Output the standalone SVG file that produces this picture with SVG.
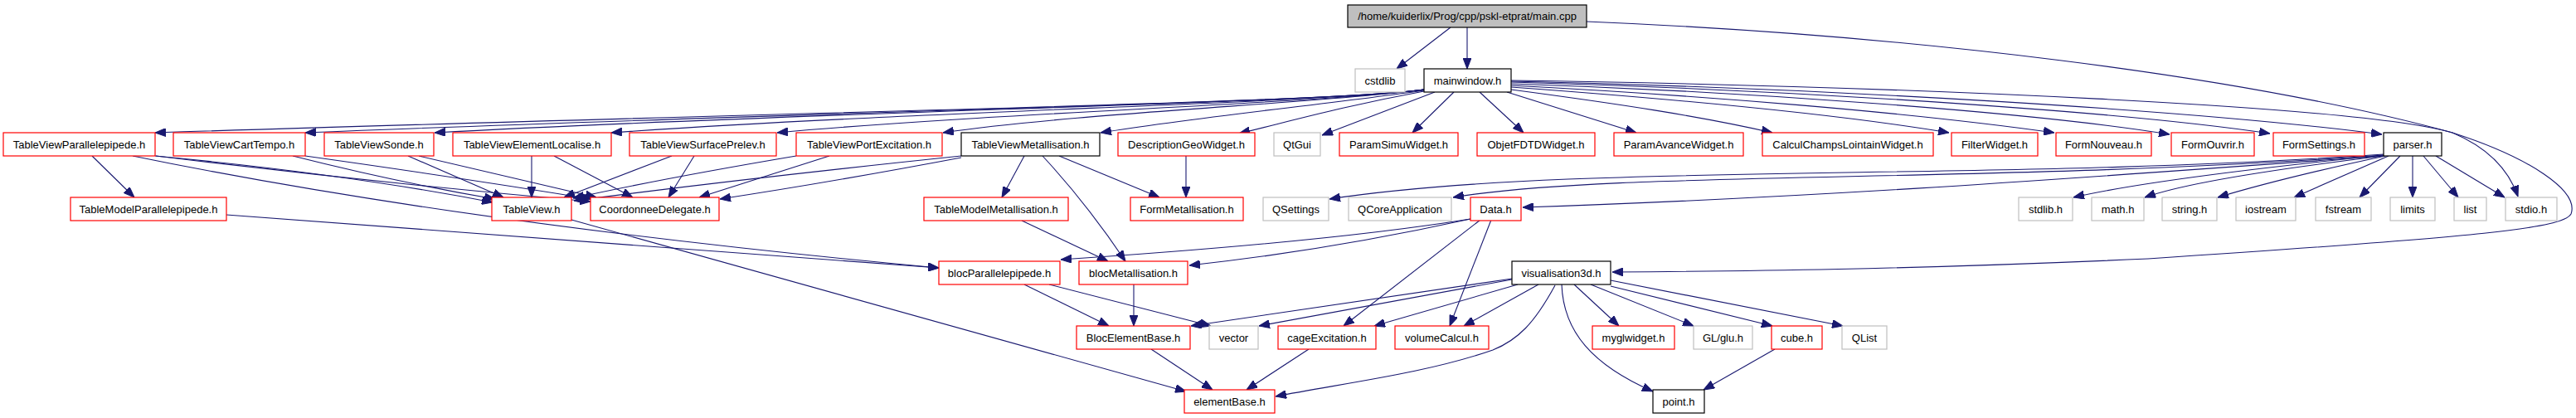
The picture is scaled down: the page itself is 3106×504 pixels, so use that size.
<svg xmlns="http://www.w3.org/2000/svg" width="3106" height="504" viewBox="0 0 3106 504">
<style>
rect{stroke-width:1.2}
.r rect{fill:#fff;stroke:#ff0000}
.g rect{fill:#fff;stroke:#bfbfbf}
.b rect{fill:#fff;stroke:#000}
.m rect{fill:#bfbfbf;stroke:#000}
text{font-family:"Liberation Sans",Arial,Helvetica,sans-serif;font-size:13px;fill:#000;text-anchor:middle}
#edges path{fill:none;stroke:#191970;stroke-width:1.1;marker-end:url(#ah)}
</style>
<defs>
<marker id="ah" markerUnits="userSpaceOnUse" markerWidth="13" markerHeight="10" refX="13" refY="5" orient="auto" viewBox="0 0 13 10">
<path d="M0,0 L13,5 L0,10 z" fill="#191970" stroke="#191970" stroke-width="1"/>
</marker>
</defs>
<rect width="3106" height="504" fill="#fff"/>
<g id="edges">
<path d="M1749,33 L1684,83"/>
<path d="M1769,33 L1769,83"/>
<path d="M1913,26 C2300,42 2700,90 2957,160 C3000,178 3025,205 3036,237"/>
<path d="M1717,108 C1600,124 1000,134 187,160"/>
<path d="M1717,108 C1600,124 1000,134 368,160"/>
<path d="M1717,108 C1600,124 1000,134 524,160"/>
<path d="M1717,108 C1600,124 1100,134 737,160"/>
<path d="M1717,108 C1600,124 1200,136 937,160"/>
<path d="M1717,108 C1600,124 1300,136 1137,160"/>
<path d="M1717,109 C1600,126 1450,140 1327,160"/>
<path d="M1717,110 C1620,128 1560,145 1494,161"/>
<path d="M1730,111 L1594,163"/>
<path d="M1753,111 L1703,160"/>
<path d="M1784,111 L1837,160"/>
<path d="M1817,111 L1973,160"/>
<path d="M1822,108 C1950,125 2050,140 2137,160"/>
<path d="M1822,105 C2000,118 2200,135 2350,160"/>
<path d="M1822,103 C2050,115 2300,135 2477,160"/>
<path d="M1822,101 C2100,110 2450,135 2616,162"/>
<path d="M1822,99 C2150,108 2550,133 2737,161"/>
<path d="M1822,98 C2200,106 2650,133 2872,162"/>
<path d="M1822,97 C2300,104 2850,128 2957,160 C3050,190 3110,230 3100,258 C3090,275 3000,285 2590,312 C2300,325 2100,327 1944,328"/>
<path d="M187,188 Q420,210 594,244"/>
<path d="M188,188 Q450,220 712,243"/>
<path d="M353,188 Q480,220 597,240"/>
<path d="M368,188 Q560,215 713,240"/>
<path d="M492,188 L607,238"/>
<path d="M505,188 Q600,210 719,238"/>
<path d="M641,188 L641,238"/>
<path d="M668,188 L763,238"/>
<path d="M810,188 L680,238"/>
<path d="M837,188 L806,238"/>
<path d="M960,188 Q800,215 691,239"/>
<path d="M1000,188 L843,238"/>
<path d="M1159,188 Q900,215 692,242"/>
<path d="M1159,190 Q1000,220 868,240"/>
<path d="M111,188 L162,238"/>
<path d="M160,188 Q560,270 1132,323"/>
<path d="M273,259 Q700,290 1132,323"/>
<path d="M689,265 L1430,472"/>
<path d="M1235,188 L1208,238"/>
<path d="M1257,188 Q1310,245 1357,315"/>
<path d="M1277,188 L1398,238"/>
<path d="M1430,188 L1430,238"/>
<path d="M1232,266 L1336,315"/>
<path d="M1773,264 Q1600,292 1279,313"/>
<path d="M1773,264 Q1600,302 1434,320"/>
<path d="M1785,265 L1620,393"/>
<path d="M1798,265 L1748,393"/>
<path d="M1235,343 L1337,393"/>
<path d="M1265,343 L1460,393"/>
<path d="M1367,343 L1367,393"/>
<path d="M1388,421 L1462,470"/>
<path d="M1578,421 L1503,470"/>
<path d="M1823,337 L1518,393"/>
<path d="M1823,336 L1436,393"/>
<path d="M1830,343 L1657,393"/>
<path d="M1855,343 L1765,393"/>
<path d="M1875,344 C1850,390 1830,410 1800,422 C1720,450 1620,462 1538,478"/>
<path d="M1883,343 C1885,400 1920,440 1993,472"/>
<path d="M1898,343 L1952,393"/>
<path d="M1918,343 L2042,393"/>
<path d="M1942,345 L2137,393"/>
<path d="M1942,338 L2222,393"/>
<path d="M2140,421 L2054,470"/>
<path d="M2874,186 C2400,220 1900,195 1603,240"/>
<path d="M2874,187 C2400,222 1950,205 1752,238"/>
<path d="M2874,188 C2500,215 2200,238 1836,250"/>
<path d="M2874,187 Q2600,215 2500,238"/>
<path d="M2874,188 Q2650,215 2586,238"/>
<path d="M2876,188 Q2750,215 2674,238"/>
<path d="M2880,188 L2766,238"/>
<path d="M2894,188 L2845,238"/>
<path d="M2909,188 L2909,238"/>
<path d="M2922,188 L2964,238"/>
<path d="M2937,188 L3020,238"/>
</g>
<g id="main_cpp" class="m"><rect x="1625" y="6" width="288" height="27"/><text x="1769" y="24">/home/kuiderlix/Prog/cpp/pskl-etprat/main.cpp</text></g>
<g id="cstdlib" class="g"><rect x="1634" y="83" width="60" height="28"/><text x="1664" y="102">cstdlib</text></g>
<g id="mainwindow_h" class="b"><rect x="1717" y="83" width="105" height="28"/><text x="1769.5" y="102">mainwindow.h</text></g>
<g id="TableViewParallelepipede_h" class="r"><rect x="4" y="160" width="183" height="28"/><text x="95.5" y="179">TableViewParallelepipede.h</text></g>
<g id="TableViewCartTempo_h" class="r"><rect x="209" y="160" width="159" height="28"/><text x="288.5" y="179">TableViewCartTempo.h</text></g>
<g id="TableViewSonde_h" class="r"><rect x="391" y="160" width="132" height="28"/><text x="457" y="179">TableViewSonde.h</text></g>
<g id="TableViewElementLocalise_h" class="r"><rect x="546" y="160" width="191" height="28"/><text x="641.5" y="179">TableViewElementLocalise.h</text></g>
<g id="TableViewSurfacePrelev_h" class="r"><rect x="759" y="160" width="177" height="28"/><text x="847.5" y="179">TableViewSurfacePrelev.h</text></g>
<g id="TableViewPortExcitation_h" class="r"><rect x="960" y="160" width="176" height="28"/><text x="1048" y="179">TableViewPortExcitation.h</text></g>
<g id="TableViewMetallisation_h" class="b"><rect x="1159" y="160" width="167" height="28"/><text x="1242.5" y="179">TableViewMetallisation.h</text></g>
<g id="DescriptionGeoWidget_h" class="r"><rect x="1348" y="160" width="165" height="28"/><text x="1430.5" y="179">DescriptionGeoWidget.h</text></g>
<g id="QtGui" class="g"><rect x="1536" y="160" width="56" height="28"/><text x="1564" y="179">QtGui</text></g>
<g id="ParamSimuWidget_h" class="r"><rect x="1615" y="160" width="143" height="28"/><text x="1686.5" y="179">ParamSimuWidget.h</text></g>
<g id="ObjetFDTDWidget_h" class="r"><rect x="1781" y="160" width="142" height="28"/><text x="1852" y="179">ObjetFDTDWidget.h</text></g>
<g id="ParamAvanceWidget_h" class="r"><rect x="1946" y="160" width="156" height="28"/><text x="2024" y="179">ParamAvanceWidget.h</text></g>
<g id="CalculChampsLointainWidget_h" class="r"><rect x="2125" y="160" width="206" height="28"/><text x="2228" y="179">CalculChampsLointainWidget.h</text></g>
<g id="FilterWidget_h" class="r"><rect x="2353" y="160" width="104" height="28"/><text x="2405" y="179">FilterWidget.h</text></g>
<g id="FormNouveau_h" class="r"><rect x="2479" y="160" width="115" height="28"/><text x="2536.5" y="179">FormNouveau.h</text></g>
<g id="FormOuvrir_h" class="r"><rect x="2618" y="160" width="100" height="28"/><text x="2668" y="179">FormOuvrir.h</text></g>
<g id="FormSettings_h" class="r"><rect x="2741" y="160" width="110" height="28"/><text x="2796" y="179">FormSettings.h</text></g>
<g id="parser_h" class="b"><rect x="2874" y="160" width="70" height="28"/><text x="2909" y="179">parser.h</text></g>
<g id="TableModelParallelepipede_h" class="r"><rect x="85" y="238" width="188" height="28"/><text x="179" y="257">TableModelParallelepipede.h</text></g>
<g id="TableView_h" class="r"><rect x="593" y="238" width="96" height="28"/><text x="641" y="257">TableView.h</text></g>
<g id="CoordonneeDelegate_h" class="r"><rect x="712" y="238" width="155" height="28"/><text x="789.5" y="257">CoordonneeDelegate.h</text></g>
<g id="TableModelMetallisation_h" class="r"><rect x="1114" y="238" width="174" height="28"/><text x="1201" y="257">TableModelMetallisation.h</text></g>
<g id="FormMetallisation_h" class="r"><rect x="1363" y="238" width="136" height="28"/><text x="1431" y="257">FormMetallisation.h</text></g>
<g id="QSettings" class="g"><rect x="1523" y="238" width="79" height="28"/><text x="1562.5" y="257">QSettings</text></g>
<g id="QCoreApplication" class="g"><rect x="1626" y="238" width="124" height="28"/><text x="1688" y="257">QCoreApplication</text></g>
<g id="Data_h" class="r"><rect x="1773" y="238" width="61" height="28"/><text x="1803.5" y="257">Data.h</text></g>
<g id="stdlib_h" class="g"><rect x="2434" y="238" width="65" height="28"/><text x="2466.5" y="257">stdlib.h</text></g>
<g id="math_h" class="g"><rect x="2522" y="238" width="63" height="28"/><text x="2553.5" y="257">math.h</text></g>
<g id="string_h" class="g"><rect x="2607" y="238" width="66" height="28"/><text x="2640" y="257">string.h</text></g>
<g id="iostream" class="g"><rect x="2696" y="238" width="72" height="28"/><text x="2732" y="257">iostream</text></g>
<g id="fstream" class="g"><rect x="2792" y="238" width="67" height="28"/><text x="2825.5" y="257">fstream</text></g>
<g id="limits" class="g"><rect x="2882" y="238" width="54" height="28"/><text x="2909" y="257">limits</text></g>
<g id="list" class="g"><rect x="2959" y="238" width="39" height="28"/><text x="2978.5" y="257">list</text></g>
<g id="stdio_h" class="g"><rect x="3021" y="238" width="62" height="28"/><text x="3052" y="257">stdio.h</text></g>
<g id="blocParallelepipede_h" class="r"><rect x="1132" y="315" width="146" height="28"/><text x="1205" y="334">blocParallelepipede.h</text></g>
<g id="blocMetallisation_h" class="r"><rect x="1301" y="315" width="131" height="28"/><text x="1366.5" y="334">blocMetallisation.h</text></g>
<g id="visualisation3d_h" class="b"><rect x="1823" y="315" width="119" height="28"/><text x="1882.5" y="334">visualisation3d.h</text></g>
<g id="BlocElementBase_h" class="r"><rect x="1298" y="393" width="137" height="28"/><text x="1366.5" y="412">BlocElementBase.h</text></g>
<g id="vector" class="g"><rect x="1458" y="393" width="59" height="28"/><text x="1487.5" y="412">vector</text></g>
<g id="cageExcitation_h" class="r"><rect x="1541" y="393" width="118" height="28"/><text x="1600" y="412">cageExcitation.h</text></g>
<g id="volumeCalcul_h" class="r"><rect x="1682" y="393" width="113" height="28"/><text x="1738.5" y="412">volumeCalcul.h</text></g>
<g id="myglwidget_h" class="r"><rect x="1920" y="393" width="99" height="28"/><text x="1969.5" y="412">myglwidget.h</text></g>
<g id="GL_glu_h" class="g"><rect x="2042" y="393" width="71" height="28"/><text x="2077.5" y="412">GL/glu.h</text></g>
<g id="cube_h" class="r"><rect x="2136" y="393" width="61" height="28"/><text x="2166.5" y="412">cube.h</text></g>
<g id="QList" class="g"><rect x="2221" y="393" width="54" height="28"/><text x="2248" y="412">QList</text></g>
<g id="elementBase_h" class="r"><rect x="1428" y="470" width="109" height="28"/><text x="1482.5" y="489">elementBase.h</text></g>
<g id="point_h" class="b"><rect x="1993" y="470" width="62" height="28"/><text x="2024" y="489">point.h</text></g>
</svg>
